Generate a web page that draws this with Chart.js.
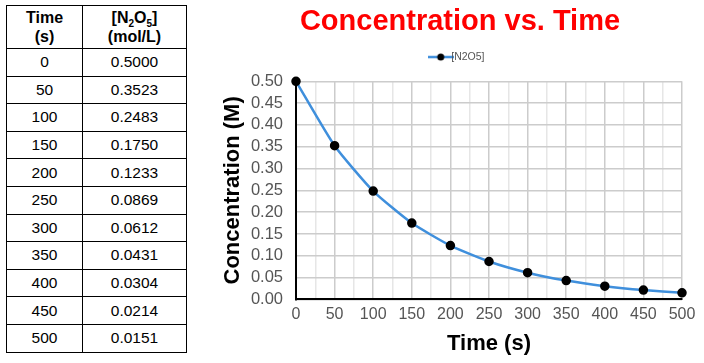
<!DOCTYPE html>
<html><head><meta charset="utf-8">
<script src="https://cdn.jsdelivr.net/npm/chart.js@4/dist/chart.umd.min.js"></script>
<style>
html,body{margin:0;padding:0;background:#fff;width:704px;height:363px;overflow:hidden;font-family:"Liberation Sans",Arial,sans-serif;}
#tbl{position:absolute;left:6px;top:5px;border-collapse:collapse;}
#tbl td,#tbl th{border:1.5px solid #000;text-align:center;font-size:15.5px;color:#000;padding:0;}
#tbl th{height:42px;line-height:19px;font-weight:bold;font-size:16px;}
#tbl td{height:26.6px;}
#tbl .c1{width:75px;}
#tbl .c2{width:103px;}
#wrap{position:absolute;left:216px;top:0;width:488px;height:363px;}
</style></head><body>
<table id="tbl"><thead><tr><th class="c1">Time<br>(s)</th><th class="c2">[N<sub style="font-size:10px;line-height:0">2</sub>O<sub style="font-size:10px;line-height:0">5</sub>]<br>(mol/L)</th></tr></thead><tbody id="tb"></tbody></table>
<div id="wrap"><canvas id="c" width="488" height="363"></canvas></div>
<script>
const times = [0, 50, 100, 150, 200, 250, 300, 350, 400, 450, 500];
const concLabels = ["0.5000","0.3523","0.2483","0.1750","0.1233","0.0869","0.0612","0.0431","0.0304","0.0214","0.0151"];
const concentrations = [0.5000,0.3523,0.2483,0.1750,0.1233,0.0869,0.0612,0.0431,0.0304,0.0214,0.0151];
const seriesName = "[N2O5]";

const tb = document.getElementById('tb');
times.forEach((t,i)=>{
  const tr=document.createElement('tr');
  tr.innerHTML='<td>'+t+'</td><td>'+concLabels[i]+'</td>';
  tb.appendChild(tr);
});

const lineColor = '#3f8fdc';
const icon = document.createElement('canvas');
icon.width=26; icon.height=10;
const ic=icon.getContext('2d');
ic.strokeStyle=lineColor; ic.lineWidth=2.5;
ic.beginPath(); ic.moveTo(0,5); ic.lineTo(26,5); ic.stroke();
ic.fillStyle='#000'; ic.beginPath(); ic.arc(13,5,3.5,0,Math.PI*2); ic.fill();

const legendSpacer = {
  id:'legendSpacer',
  beforeInit(chart){
    const orig = chart.legend.fit;
    chart.legend.fit = function(){ orig.call(this); this.height += 9; };
  }
};

new Chart(document.getElementById('c'),{
  type:'line',
  data:{datasets:[{
    label:seriesName,
    data:times.map((t,i)=>({x:t,y:concentrations[i]})),
    borderColor:lineColor,
    borderWidth:2.5,
    tension:0.18,
    pointRadius:3.5,
    pointBackgroundColor:'#000',
    pointBorderColor:'#000',
    pointStyle:'circle',
    clip:false
  }]},
  plugins:[legendSpacer],
  options:{
    responsive:false,
    animation:false,
    layout:{padding:{left:22,right:22,top:2,bottom:6}},
    plugins:{
      title:{display:true,text:'Concentration vs. Time',color:'#ff0000',
        font:{family:'"Liberation Sans",Arial,sans-serif',size:29,weight:'bold'},padding:{top:3,bottom:6}},
      legend:{display:true,labels:{usePointStyle:true,pointStyle:icon,color:'#555',
        font:{family:'"Liberation Sans",Arial,sans-serif',size:10.5},padding:6}},
      tooltip:{enabled:false}
    },
    scales:{
      x:{type:'linear',min:0,max:500,
        ticks:{stepSize:25,autoSkip:false,maxRotation:0,color:'#555',padding:6,
          font:{family:'"Liberation Sans",Arial,sans-serif',size:16},
          callback:v=>(v%50===0?v:'')},
        grid:{color:ctx=>(ctx.tick && ctx.tick.value%50===0)?'#cccccc':'#e6e6e6',lineWidth:1.5,drawTicks:false},
        border:{color:'#000',width:2},
        title:{display:true,text:'Time (s)',color:'#000',
          font:{family:'"Liberation Sans",Arial,sans-serif',size:22,weight:'bold'},padding:{top:0,bottom:0}}
      },
      y:{min:0,max:0.5,
        afterFit(scale){ scale.width = 58; },
        ticks:{stepSize:0.05,autoSkip:false,color:'#555',padding:13,
          font:{family:'"Liberation Sans",Arial,sans-serif',size:16.5},
          callback:v=>v.toFixed(2)},
        grid:{color:'#cccccc',lineWidth:1.5,drawTicks:false},
        border:{color:'#000',width:2},
        title:{display:true,text:'Concentration (M)',color:'#000',
          font:{family:'"Liberation Sans",Arial,sans-serif',size:22,weight:'bold'},padding:{top:-18,bottom:0}}
      }
    }
  }
});
</script>
</body></html>
